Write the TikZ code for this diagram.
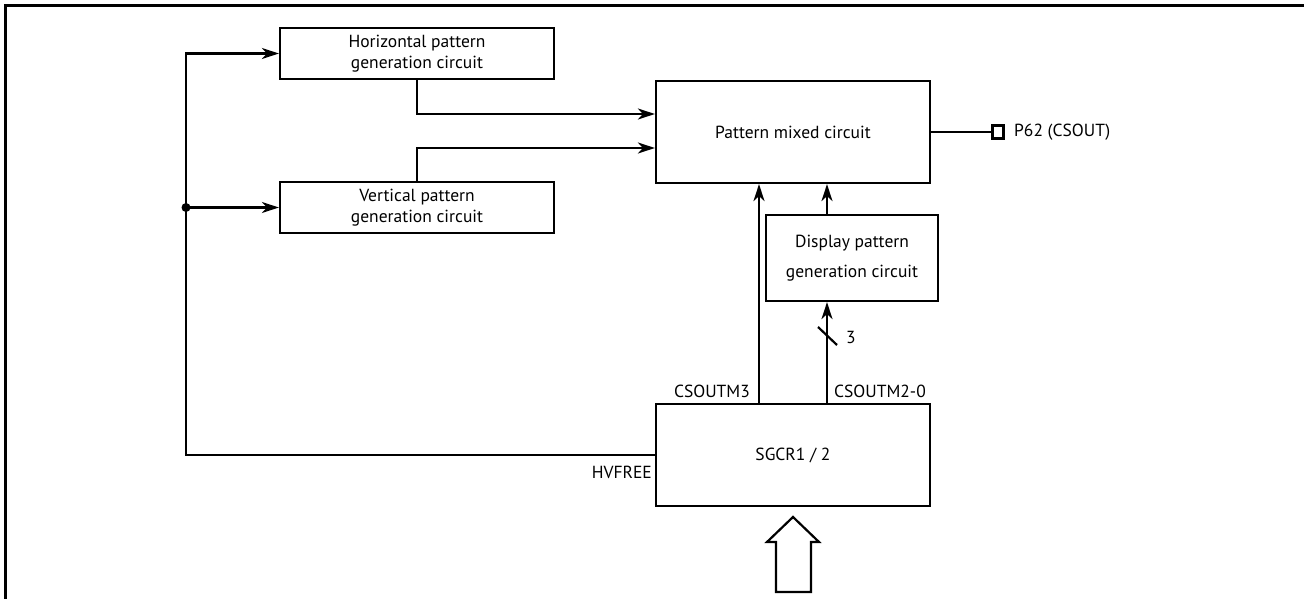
\documentclass[tikz,border=0pt]{standalone}
\usepackage{fontspec}
\setmainfont{PT Sans}
\usetikzlibrary{arrows.meta}
\begin{document}
\begin{tikzpicture}[x=1pt,y=-1pt,
  box/.style={draw,line width=2.2pt,inner sep=0pt,minimum width=274pt,minimum height=51pt,align=center,font=\fontsize{17.5}{21}\selectfont},
  conn/.style={line width=2.2pt},
  arr/.style={conn,-{Stealth[length=17pt,width=11pt,inset=5pt]}},
  lbl/.style={inner sep=0pt,font=\fontsize{17.5}{21}\selectfont}]
\useasboundingbox (0,0) rectangle (1304,599);
\draw[line width=3pt] (5,599) -- (5,6) -- (1304,6);
\node[box] (H) at (417,53.5) {Horizontal pattern\\generation circuit};
\node[box] (V) at (417,207.5) {Vertical pattern\\generation circuit};
\node[box,minimum height=102pt] (PM) at (793,132) {Pattern mixed circuit};
\node[box,minimum width=172pt,minimum height=86pt] (DP) at (852,258) {Display pattern\\[9pt]generation circuit};
\node[box,minimum height=102pt] (SG) at (793,455) {SGCR1 / 2};
\node[draw,line width=2.2pt,minimum width=11pt,minimum height=13pt,inner sep=0pt] (pin) at (998,132) {};
\node[lbl,anchor=west] (p62) at (1014,132) {P62 (CSOUT)};
\coordinate (top) at (186,53.5);
\coordinate (jn) at (186,207.5);
\draw[arr] (SG.west) -| (top) -- (H.west);
\fill (jn) circle (4.5pt);
\draw[arr] (jn) -- (V.west);
\draw[arr] (H.south) |- ([yshift=18pt]PM.west);
\draw[arr] (V.north) |- ([yshift=-16pt]PM.west);
\draw[arr] ([xshift=-34pt]SG.north) -- ([xshift=-34pt]PM.south);
\draw[arr] ([xshift=34pt]SG.north) -- ([xshift=-25pt]DP.south);
\draw[arr] ([xshift=-25pt]DP.north) -- ([xshift=34pt]PM.south);
\draw[conn] (PM.east) -- (pin.west);
\draw[conn] (818,327) -- (837,345);
\node[lbl] (three) at (851,337) {3};
\node[lbl,anchor=south east] (m3) at (750,398) {CSOUTM3};
\node[lbl,anchor=south west] (m20) at (834,398) {CSOUTM2-0};
\node[lbl,anchor=north east] (hv) at (652,466) {HVFREE};
\draw[line width=2.2pt,line join=miter] (793,517) -- (819,542) -- (811,542) -- (811,592) -- (776,592) -- (776,542) -- (767,542) -- cycle;
\end{tikzpicture}
\end{document}
